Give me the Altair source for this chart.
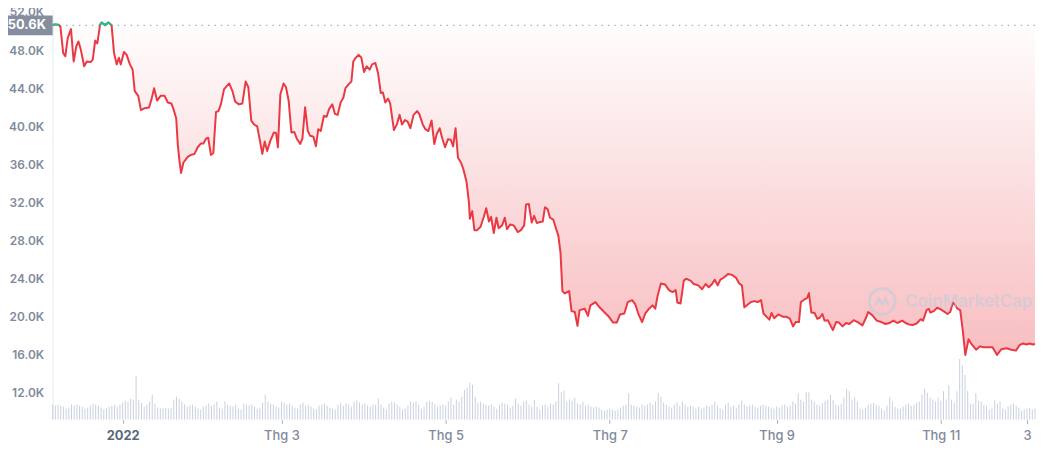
import altair as alt
import pandas as pd

START = "2021-12-06"
BASE_PRICE = 50600

# Price samples: day offset from START, price in thousand USD
price_days = [0.0, 0.7, 2.2, 2.9, 3.9, 4.7, 5.6, 6.8, 7.8, 8.8, 9.6, 10.5, 11.7, 12.7, 14.2, 14.9, 15.8, 16.6,
              17.6, 18.2, 19.5, 20.7, 21.9, 22.8, 23.8, 24.6, 25.3, 26.5, 27.5, 28.7, 29.7, 30.5, 31.8, 32.8,
              34.2, 35.8, 36.7, 37.7, 38.8, 40.1, 41.6, 42.8, 44.1, 44.9, 45.9, 46.5, 47.1, 47.7, 48.6, 50.2,
              51.4, 52.7, 53.9, 55.1, 56.0, 57.0, 57.8, 58.8, 59.7, 60.7, 61.6, 62.5, 63.7, 65.6, 66.8, 67.8,
              69.2, 70.5, 71.7, 72.7, 73.8, 74.8, 76.0, 77.0, 77.9, 78.8, 79.7, 80.9, 82.2, 83.0, 83.7, 84.6,
              85.8, 86.7, 87.7, 88.7, 89.8, 90.7, 92.0, 92.8, 93.8, 94.8, 95.7, 96.9, 97.8, 98.7, 99.6, 100.8,
              101.8, 102.7, 103.9, 104.9, 105.9, 107.0, 108.0, 108.8, 110.1, 111.0, 111.7, 112.6, 113.7, 114.7,
              115.7, 116.7, 117.8, 118.7, 119.9, 120.9, 121.9, 122.7, 123.6, 124.6, 125.4, 126.8, 127.9, 128.9,
              129.8, 130.9, 131.9, 132.9, 134.1, 135.4, 136.2, 137.5, 138.5, 139.6, 140.8, 141.8, 142.7, 143.8,
              144.8, 145.8, 146.9, 147.9, 148.8, 149.7, 150.6, 151.7, 152.6, 153.8, 154.7, 155.0, 155.9, 156.7,
              157.7, 159.0, 160.2, 161.1, 162.1, 162.9, 163.9, 164.9, 165.7, 167.0, 168.0, 168.8, 170.0, 171.3,
              172.8, 174.0, 175.2, 175.9, 176.9, 178.0, 178.9, 179.9, 181.1, 182.1, 182.9, 183.9, 184.8, 186.0,
              187.0, 187.9, 188.7, 189.4, 190.3, 191.9, 192.8, 194.0, 195.0, 195.8, 197.7, 198.9, 199.8, 201.7,
              203.2, 205.1, 206.7, 208.2, 209.6, 210.8, 212.4, 213.7, 215.3, 216.5, 217.7, 219.0, 220.2, 221.6,
              222.9, 223.9, 224.7, 226.0, 227.5, 229.0, 230.3, 231.5, 232.1, 233.3, 234.5, 235.4, 237.0, 238.2,
              239.9, 241.3, 242.6, 243.8, 245.0, 246.0, 247.1, 248.1, 249.3, 250.9, 252.4, 253.9, 255.1, 256.1,
              257.0, 258.3, 259.5, 260.7, 262.0, 263.2, 264.1, 265.3, 266.3, 267.1, 268.1, 269.6, 271.4, 272.7,
              273.9, 275.1, 276.1, 277.3, 278.0, 279.2, 280.4, 281.0, 281.9, 283.1, 284.1, 285.0, 286.0, 286.8,
              288.0, 289.9, 291.1, 292.1, 293.5, 294.8, 296.0, 297.6, 299.1, 300.9, 302.2, 303.0, 304.6, 306.2,
              307.9, 309.5, 310.8, 312.4, 313.8, 315.7, 316.9, 318.1, 319.7, 321.0, 322.5, 323.4, 324.7, 325.5,
              326.1, 327.4, 328.6, 329.8, 331.0, 332.5, 333.5, 334.5, 335.4, 336.2, 337.2, 338.1, 339.1, 340.3,
              341.5, 343.1, 344.6, 345.8, 347.3, 349.2, 350.9, 352.5, 354.4, 356.2, 357.9, 359.3, 360.6, 361.8,
              363.0, 364.2, 365.0]
price_k = [50.6, 50.7, 50.65, 50.45, 47.7, 47.35, 49.25, 50.2, 46.8, 48.4, 48.9, 48.0, 46.3, 46.8, 46.75, 47.0, 49.0, 48.7,
           50.65, 50.9, 50.62, 50.9, 50.6, 47.7, 46.5, 47.2, 46.5, 47.8, 47.5, 46.5, 45.96, 43.7, 43.2, 41.7,
           41.9, 41.97, 42.8, 44.0, 42.7, 43.2, 43.2, 42.5, 42.4, 41.8, 40.85, 38.1, 36.4, 35.1, 36.2, 36.8,
           37.0, 37.1, 37.8, 38.2, 38.2, 38.7, 38.8, 37.0, 37.2, 41.5, 41.6, 42.3, 43.9, 44.5, 43.7, 42.6,
           42.3, 42.4, 44.7, 44.1, 40.6, 40.2, 40.0, 38.5, 37.1, 38.4, 37.4, 38.5, 39.35, 39.3, 37.8, 43.35,
           44.5, 44.1, 42.65, 39.35, 39.4, 38.7, 38.15, 38.7, 42.0, 39.5, 39.0, 38.9, 37.9, 39.7, 39.5, 41.1,
           41.0, 41.8, 42.3, 41.3, 41.2, 42.5, 43.0, 44.0, 44.45, 44.7, 46.8, 47.2, 47.5, 47.2,
           45.7, 46.3, 45.95, 46.5, 46.65, 45.6, 43.5, 43.55, 42.5, 42.9, 42.4, 39.6, 40.2, 41.2,
           40.2, 40.65, 40.5, 39.8, 41.2, 41.6, 41.3, 40.2, 39.7, 39.5, 40.6, 38.15, 39.2, 39.8,
           38.7, 37.8, 38.65, 38.6, 37.9, 39.8, 36.7, 36.2, 35.5, 34.15, 31.9, 30.3, 31.1, 29.1,
           29.1, 29.45, 30.5, 31.4, 30.0, 30.5, 28.8, 30.4, 29.3, 29.6, 30.4, 29.2, 29.7, 29.6,
           28.9, 29.1, 29.6, 31.8, 31.85, 29.9, 30.6, 29.85, 29.95, 30.0, 31.5, 31.3, 30.4, 30.2,
           29.3, 28.5, 26.7, 22.7, 22.45, 22.7, 20.6, 20.5, 19.05, 20.7, 20.85, 20.1, 21.2, 21.55,
           21.0, 20.45, 20.0, 19.4, 19.4, 20.25, 20.35, 21.55, 21.75, 21.3, 20.25, 19.45, 20.35, 20.85,
           21.2, 20.85, 22.1, 23.5, 23.4, 22.8, 22.6, 22.8, 21.5, 21.4, 23.8, 24.0, 23.8, 23.45,
           23.3, 22.9, 23.45, 23.1, 23.45, 23.9, 23.3, 23.9, 24.1, 24.5, 24.4, 24.1, 23.5, 23.3,
           21.0, 21.3, 21.55, 21.65, 21.55, 21.75, 20.35, 20.0, 19.7, 20.4, 19.85, 20.25, 20.0, 20.0,
           19.8, 19.0, 19.45, 19.45, 21.55, 21.8, 22.0, 22.5, 20.45, 20.4, 19.8, 19.9, 20.3, 19.6,
           19.65, 18.6, 19.45, 19.4, 19.0, 19.35, 19.25, 19.65, 19.45, 19.1, 19.9, 20.5, 20.15, 19.6,
           19.45, 19.25, 19.35, 19.6, 19.35, 19.6, 19.35, 19.2, 19.15, 19.3, 19.75, 19.6, 20.7, 20.85,
           20.45, 20.6, 20.95, 20.8, 20.6, 20.3, 20.5, 21.5, 21.2, 20.85, 20.7, 18.7, 16.0, 17.65,
           17.1, 16.55, 16.9, 16.8, 16.8, 16.8, 16.0, 16.6, 16.7, 16.55, 16.45, 17.05, 17.2, 17.1,
           17.2, 17.1, 17.15]

# Daily volume (billion USD), one value per day from START
volume_b = [30, 28, 30, 28, 26, 22, 24, 30, 28, 30, 28, 26, 22, 24, 28, 32, 30, 28, 24, 20, 22, 26, 28, 30, 26, 30, 34, 38, 36, 42,
            40, 88, 40, 34, 26, 30, 36, 50, 32, 24, 22, 22, 24, 22, 24, 40, 46, 42, 36, 30, 26, 28, 30, 26, 22, 20, 26, 28, 32, 28,
            30, 36, 24, 22, 37, 30, 28, 26, 30, 22, 20, 32, 30, 28, 30, 26, 22, 24, 34, 50, 36, 32, 30, 26, 24, 36, 34, 30, 32, 28,
            24, 22, 30, 34, 28, 30, 26, 22, 20, 28, 30, 32, 28, 24, 22, 20, 30, 34, 28, 32, 30, 26, 36, 38, 34, 30, 32, 28, 26, 30,
            30, 42, 30, 24, 20, 32, 36, 34, 30, 26, 20, 22, 28, 36, 34, 36, 30, 22, 26, 36, 38, 36, 32, 26, 28, 30, 28, 36, 44, 30,
            40, 36, 46, 60, 64, 74, 70, 46, 34, 36, 32, 30, 28, 30, 26, 22, 30, 34, 32, 30, 24, 28, 42, 32, 28, 36, 38, 30, 26, 40,
            26, 20, 28, 30, 26, 32, 30, 36, 73, 55, 58, 36, 40, 38, 44, 32, 30, 36, 28, 30, 26, 24, 26, 24, 20, 18, 20, 22, 20, 18,
            20, 24, 28, 30, 53, 30, 28, 26, 24, 30, 28, 30, 34, 30, 36, 53, 46, 34, 30, 26, 24, 30, 34, 28, 36, 30, 26, 28, 26, 22,
            26, 22, 24, 28, 26, 30, 36, 28, 22, 20, 30, 34, 26, 28, 24, 30, 38, 30, 26, 28, 30, 26, 24, 28, 30, 28, 26, 24, 22, 26,
            24, 28, 30, 26, 28, 36, 32, 53, 40, 36, 55, 55, 40, 36, 30, 28, 32, 38, 40, 50, 40, 30, 28, 32, 44, 62, 57, 40, 45, 36,
            22, 20, 24, 30, 32, 34, 30, 28, 22, 18, 28, 45, 36, 26, 22, 22, 26, 30, 32, 28, 30, 34, 36, 50, 62, 54, 44, 40, 36, 44,
            38, 57, 40, 69, 40, 34, 57, 122, 109, 90, 58, 32, 32, 53, 38, 36, 30, 28, 20, 22, 40, 32, 36, 22, 20, 26, 30, 32, 28, 24,
            18, 20, 22, 24, 20, 22]

price_ticks = [12000, 16000, 20000, 24000, 28000, 32000, 36000, 40000, 44000, 48000, 52000]
x_tick_dates = ["2022-01-01", "2022-03-01", "2022-05-01", "2022-07-01", "2022-09-01", "2022-11-01", "2022-12-03"]

Y_DOMAIN = [9220, 52240]
VOL_DOMAIN = [0, 826]
W, H = 990, 413

RED = "#ea3943"
GREEN = "#16c784"
GREY = "#808a9d"

t0 = pd.Timestamp(START, tz="UTC")


def iso(d):
    return (t0 + pd.to_timedelta(d, unit="D")).strftime("%Y-%m-%dT%H:%M:%SZ")


def ms(ts):
    return int(pd.Timestamp(ts, tz="UTC").timestamp() * 1000)


prices = [v * 1000 for v in price_k]
price_df = pd.DataFrame({"t": [iso(d) for d in price_days], "price": prices, "base": BASE_PRICE})

vol_df = pd.DataFrame({"t": [iso(i) for i in range(len(volume_b))], "vol": volume_b})

# green segments (portions above the starting price)
g_rows = []
seg = 0
for k in range(len(prices)):
    d, p = price_days[k], prices[k]
    if k > 0:
        d0, p0 = price_days[k - 1], prices[k - 1]
        if (p0 > BASE_PRICE) != (p > BASE_PRICE):
            dc = d0 + (d - d0) * (BASE_PRICE - p0) / (p - p0)
            g_rows.append({"seg": seg, "t": iso(dc), "price": BASE_PRICE})
            if p <= BASE_PRICE:
                seg += 1
    if p > BASE_PRICE:
        g_rows.append({"seg": seg, "t": iso(d), "price": p})
green_df = pd.DataFrame(g_rows)

base_df = pd.DataFrame({"base": [BASE_PRICE], "label": [f"{BASE_PRICE / 1000:.1f}K"]})
one_df = pd.DataFrame({"a": [0]})

x_domain = [ms(iso(price_days[0])), ms(iso(price_days[-1]))]
x_scale = alt.Scale(type="utc", domain=x_domain)

first_cond = "utcmonth(datum.value)==0 && utcdate(datum.value)==1"
x_axis = alt.Axis(
    values=[ms(d) for d in x_tick_dates],
    labelExpr=("utcmonth(datum.value)==0 && utcdate(datum.value)==1 ? utcFormat(datum.value, '%Y') : "
               "(utcdate(datum.value)==1 ? 'Thg ' + (utcmonth(datum.value)+1) : '' + utcdate(datum.value))"),
    labelFontWeight={"condition": {"test": first_cond, "value": "bold"}, "value": 500},
    labelColor={"condition": {"test": first_cond, "value": "#58667e"}, "value": GREY},
    labelFontSize=13,
    labelPadding=6,
    ticks=True,
    tickSize=4,
    tickColor="#a6b0c3",
    domain=False,
    grid=False,
    title=None,
)

y_scale = alt.Scale(domain=Y_DOMAIN, nice=False, zero=False)
y_axis = alt.Axis(
    values=price_ticks,
    labelExpr="format(datum.value/1000, '.1f') + 'K'",
    ticks=False,
    domain=True,
    domainColor="#e8ebf0",
    gridColor="#eff2f5",
    labelColor=GREY,
    labelFontSize=12,
    labelFontWeight=600,
    labelPadding=9,
    title=None,
)

X = alt.X("t:T", scale=x_scale, axis=x_axis)


def Yp(field):
    return alt.Y(field, scale=y_scale, axis=y_axis)


volume = alt.Chart(vol_df).mark_rule(color="#c9d0de", strokeWidth=1).encode(
    x=X,
    y=alt.Y("vol:Q", scale=alt.Scale(domain=VOL_DOMAIN), axis=None),
    y2=alt.datum(0),
)

gradient = alt.Gradient(
    gradient="linear",
    stops=[alt.GradientStop(color="rgba(234,57,67,0.01)", offset=0),
           alt.GradientStop(color="rgba(234,57,67,0.33)", offset=1)],
    x1=0, x2=0, y1=0, y2=1,
)

area = alt.Chart(price_df).transform_calculate(
    py=f"min(datum.price, {BASE_PRICE})"
).mark_area(color=gradient).encode(
    x=X,
    y=Yp("py:Q"),
    y2="base:Q",
)

baseline = alt.Chart(base_df).mark_rule(color="#a6b0c3", strokeDash=[1.5, 5], strokeWidth=1.2).encode(
    y=Yp("base:Q")
)

red_line = alt.Chart(price_df).mark_line(color=RED, strokeWidth=2, strokeJoin="round").encode(
    x=X, y=Yp("price:Q")
)

green_line = alt.Chart(green_df).mark_line(color=GREEN, strokeWidth=2, strokeJoin="round").encode(
    x=X, y=Yp("price:Q"), detail="seg:N"
)

box = alt.Chart(base_df).mark_rect(color="#858d9f", yOffset=-10, y2Offset=10).encode(
    x=alt.value(-45), x2=alt.value(0),
    y=Yp("base:Q"), y2="base:Q",
)

box_text = alt.Chart(base_df).mark_text(color="white", fontSize=13, fontWeight="bold", align="center",
                                        baseline="middle").encode(
    x=alt.value(-26), y=Yp("base:Q"), text="label:N"
)

price_layer = alt.layer(area, baseline, red_line, green_line, box, box_text)

wm_circle = alt.Chart(one_df).mark_point(shape="circle", size=676, filled=False, strokeWidth=3,
                                         color="#c3ccdb", opacity=0.6).encode(
    x=alt.value(836), y=alt.value(294)
)
wm_m = alt.Chart(one_df).mark_point(
    shape="M-0.6,0.35 L-0.3,-0.25 L0,0.2 L0.3,-0.25 L0.6,0.35",
    size=480, filled=False, strokeWidth=3, color="#c3ccdb", opacity=0.6,
).encode(x=alt.value(836), y=alt.value(294))
wm_text = alt.Chart(one_df).mark_text(text="CoinMarketCap", fontSize=17, fontWeight=600, color="#c3ccdb",
                                      opacity=0.6, align="left", baseline="middle").encode(
    x=alt.value(859), y=alt.value(295)
)

chart = alt.layer(volume, price_layer, wm_circle, wm_m, wm_text).resolve_scale(
    y="independent"
).properties(
    width=W, height=H,
    autosize=alt.AutoSizeParams(type="none"),
    padding={"left": 45, "top": 0, "right": 2, "bottom": 28},
).configure(font="Inter").configure_view(stroke=None)

chart.save("out.html", embed_options={"renderer": "svg", "actions": False})
